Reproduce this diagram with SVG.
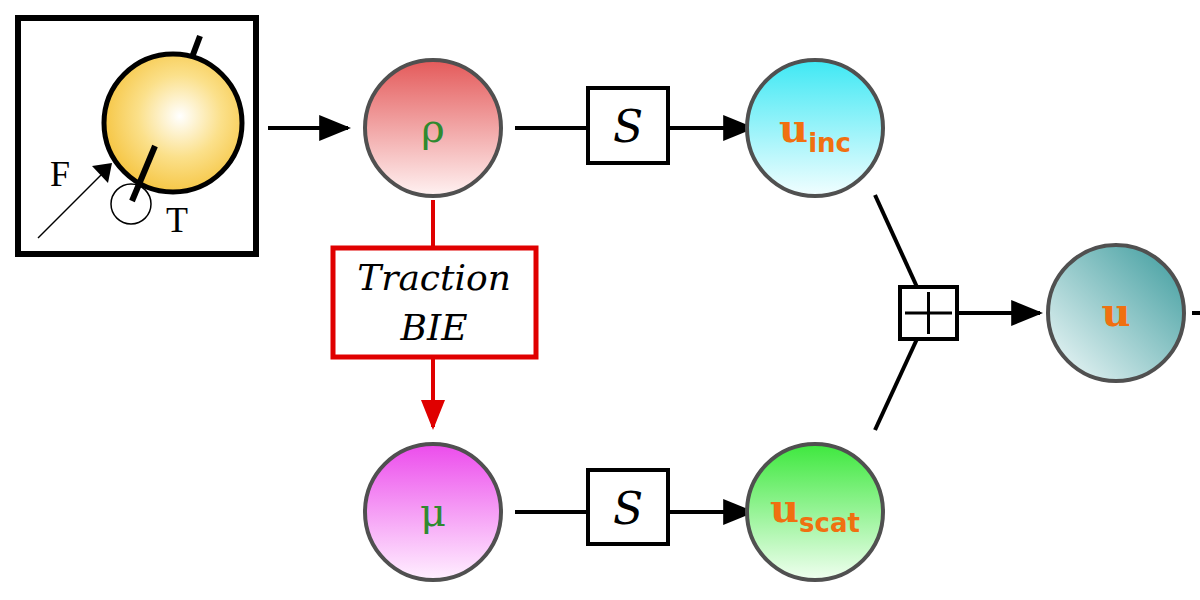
<svg xmlns="http://www.w3.org/2000/svg" width="1200" height="600" viewBox="0 0 1200 600">
<defs>
<radialGradient id="gy" cx="0.55" cy="0.45" r="0.6"><stop offset="0" stop-color="#ffffff"/><stop offset="0.5" stop-color="#fbe08a"/><stop offset="1" stop-color="#f5c23a"/></radialGradient>
<linearGradient id="gr" x1="0" y1="0" x2="0" y2="1"><stop offset="0" stop-color="#e45a5a"/><stop offset="1" stop-color="#fff2f2"/></linearGradient>
<linearGradient id="gc" x1="0" y1="0" x2="0" y2="1"><stop offset="0" stop-color="#3fe8f4"/><stop offset="1" stop-color="#f2feff"/></linearGradient>
<linearGradient id="gm" x1="0" y1="0" x2="0" y2="1"><stop offset="0" stop-color="#ec4cec"/><stop offset="1" stop-color="#fff0ff"/></linearGradient>
<linearGradient id="gg" x1="0" y1="0" x2="0" y2="1"><stop offset="0" stop-color="#3ee83e"/><stop offset="1" stop-color="#f0fff0"/></linearGradient>
<linearGradient id="gt" x1="1" y1="0" x2="0" y2="1"><stop offset="0" stop-color="#3a9a9c"/><stop offset="1" stop-color="#f4fbfb"/></linearGradient>
<marker id="ab" markerWidth="10" markerHeight="10" refX="9" refY="5" orient="auto" markerUnits="userSpaceOnUse" viewBox="0 0 10 10"><path d="M0,0 L10,5 L0,10 z" fill="#000"/></marker>
<marker id="abig" viewBox="0 0 10 10" refX="9" refY="5" markerWidth="32" markerHeight="26" orient="auto" markerUnits="userSpaceOnUse" preserveAspectRatio="none"><path d="M0,0 L10,5 L0,10 z" fill="#000"/></marker>
<marker id="ared" viewBox="0 0 10 10" refX="9" refY="5" markerWidth="30" markerHeight="24" orient="auto" markerUnits="userSpaceOnUse" preserveAspectRatio="none"><path d="M0,0 L10,5 L0,10 z" fill="#e00000"/></marker>
</defs>
<style>
.n{stroke:#505050;stroke-width:4}
.lbl{font-family:"DejaVu Serif","Liberation Serif",serif;font-size:40px;text-anchor:middle}
.g{fill:#2f8a2f}
.o{fill:#f07010;font-weight:bold}
.sub{font-family:"DejaVu Sans",sans-serif;font-size:26px}
.c{stroke:#000;stroke-width:4;fill:none}
.sb{fill:#fff;stroke:#000;stroke-width:4}
.s{font-family:"DejaVu Serif","Liberation Serif",serif;font-style:italic;font-size:44px;text-anchor:middle}
</style>
<g id="source">
<rect x="18" y="18" width="238" height="236" fill="#fff" stroke="#000" stroke-width="6"/>
<line x1="200" y1="36" x2="191" y2="60" stroke="#000" stroke-width="6"/>
<circle cx="173" cy="123" r="69" fill="url(#gy)" stroke="#000" stroke-width="5"/>
<circle cx="131" cy="204" r="20" fill="none" stroke="#000" stroke-width="1.5"/>
<line x1="155" y1="146" x2="132" y2="201" stroke="#000" stroke-width="6"/>
<line x1="38" y1="238" x2="106" y2="170" stroke="#000" stroke-width="1.5"/>
<path d="M92,166 L112,163 L108,183 z" fill="#000"/>
<text x="60" y="186" font-family="Liberation Serif,serif" font-size="36" text-anchor="middle">F</text>
<text x="177" y="232" font-family="Liberation Serif,serif" font-size="36" text-anchor="middle">T</text>
</g>
<g id="connectors">
<line class="c" x1="268" y1="128" x2="348" y2="128" marker-end="url(#abig)"/>
<line class="c" x1="515" y1="128" x2="588" y2="128"/>
<line class="c" x1="668" y1="128" x2="752" y2="128" marker-end="url(#abig)"/>
<line class="c" x1="515" y1="512" x2="588" y2="512"/>
<line class="c" x1="668" y1="512" x2="752" y2="512" marker-end="url(#abig)"/>
<line x1="433" y1="200" x2="433" y2="248" stroke="#e00000" stroke-width="4"/>
<line x1="433" y1="358" x2="433" y2="427" stroke="#e00000" stroke-width="4" marker-end="url(#ared)"/>
<line class="c" x1="875" y1="195" x2="917" y2="287"/>
<line class="c" x1="917" y1="339" x2="875" y2="430"/>
<line class="c" x1="958" y1="313" x2="1040" y2="313" marker-end="url(#abig)"/>
<line class="c" x1="1192" y1="313" x2="1200" y2="313"/>
</g>
<g id="S1"><rect class="sb" x="588" y="88" width="80" height="75"/><text class="s" x="628" y="142">S</text></g>
<g id="S2"><rect class="sb" x="588" y="470" width="80" height="74"/><text class="s" x="628" y="524">S</text></g>
<g id="bie"><rect x="333" y="248" width="203" height="109" fill="#fff" stroke="#e00000" stroke-width="5"/>
<text x="434" y="290" font-family="DejaVu Serif,serif" font-style="italic" font-size="36" text-anchor="middle">Traction</text>
<text x="434" y="340" font-family="DejaVu Serif,serif" font-style="italic" font-size="36" text-anchor="middle">BIE</text></g>
<g id="plus"><rect class="sb" x="900" y="287" width="57" height="52"/><path d="M928.5,292 V334 M905,313 H952" stroke="#000" stroke-width="3"/></g>
<g id="rho"><circle class="n" cx="433" cy="128" r="68" fill="url(#gr)"/><text class="lbl g" x="433" y="142">ρ</text></g>
<g id="uinc"><circle class="n" cx="815" cy="128" r="68" fill="url(#gc)"/><text class="lbl o" x="815" y="142">u<tspan class="sub" dy="10">inc</tspan></text></g>
<g id="mu"><circle class="n" cx="433" cy="512" r="68" fill="url(#gm)"/><text class="lbl g" x="433" y="526">μ</text></g>
<g id="uscat"><circle class="n" cx="815" cy="512" r="68" fill="url(#gg)"/><text class="lbl o" x="815" y="522">u<tspan class="sub" dy="10">scat</tspan></text></g>
<g id="u"><circle class="n" cx="1116" cy="313" r="68" fill="url(#gt)"/><text class="lbl o" x="1116" y="326">u</text></g>
</svg>
